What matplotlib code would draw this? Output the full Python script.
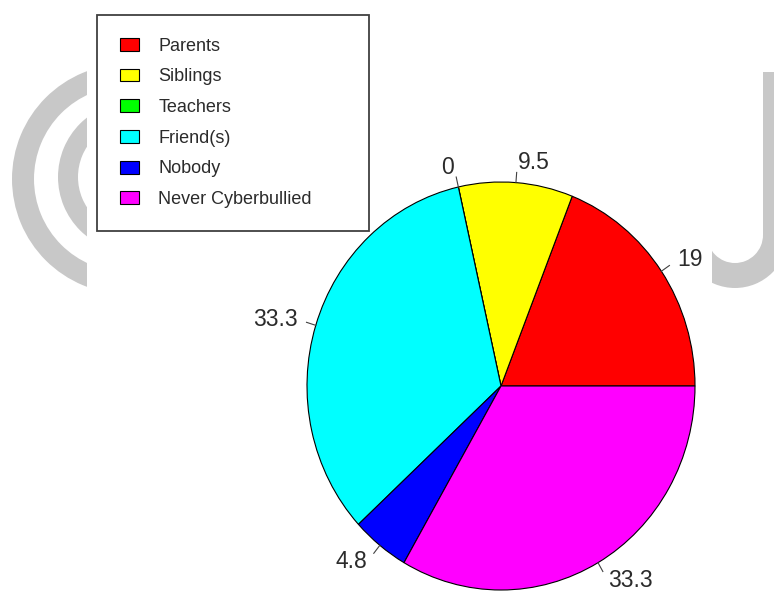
import numpy as np
import matplotlib
matplotlib.use("Agg")
import matplotlib.pyplot as plt
from matplotlib.patches import Wedge, Rectangle

plt.rcParams["font.family"] = ["Liberation Sans", "DejaVu Sans"]

categories = ["Parents", "Siblings", "Teachers", "Friend(s)", "Nobody",
              "Never Cyberbullied"]
percentages = [19.0, 9.5, 0.0, 33.3, 4.8, 33.3]
colors = ["#ff0000", "#ffff00", "#00ff00", "#00ffff", "#0000ff", "#ff00ff"]

text_color = "#2b2b2b"
mark_color = "#c8c8c8"

W, H = 774, 594
# pie centre and radii in pixels (the picture is a little stretched vertically)
cx, cy = 501, 386
rx, ry = 194, 204


def draw_watermark(fig):
    bg = fig.add_axes([0, 0, 1, 1])
    bg.set_xlim(0, W)
    bg.set_ylim(H, 0)
    bg.axis("off")
    left_clip = Rectangle((0, 0), 87, H, transform=bg.transData)
    for (x, y, r, w) in [(127, 179, 115, 22), (133.5, 177, 75.5, 20)]:
        arc = Wedge((x, y), r, 0, 360, width=w, color=mark_color, lw=0)
        bg.add_patch(arc)
        arc.set_clip_path(left_clip)
    bg.add_patch(Rectangle((763, 72), 25, 163, color=mark_color, lw=0))
    bowl = Wedge((735, 235), 53, 0, 360, width=25, color=mark_color, lw=0)
    bg.add_patch(bowl)
    bowl.set_clip_path(Rectangle((712, 235), 80, 80, transform=bg.transData))


def draw_pie(fig):
    ax = fig.add_axes([0, 0, 1, 1])
    ax.patch.set_alpha(0)
    wedges, _ = ax.pie(percentages, colors=colors, startangle=0,
                       counterclock=True,
                       wedgeprops=dict(edgecolor="black", linewidth=0.8))
    ax.set_aspect("auto")
    ax.set_xlim(-cx / rx, (W - cx) / rx)
    ax.set_ylim(-(H - cy) / ry, cy / ry)

    for wdg, val in zip(wedges, percentages):
        theta = np.deg2rad((wdg.theta1 + wdg.theta2) / 2)
        px, py = np.cos(theta), np.sin(theta)
        ax.plot([px, 1.05 * px], [py, 1.05 * py], color="#404040", lw=0.8)
        ax.text(1.1 * px, 1.1 * py, f"{val:g}", fontsize=16.5,
                color=text_color, va="center",
                ha="left" if px >= 0 else "right")

    # legend box, top left
    x0, top, right = 97 / W, 1 - 15 / H, 369 / W
    leg = fig.legend(wedges, categories, loc="upper left",
                     bbox_to_anchor=(x0, 0.4, right - x0, top - 0.4),
                     mode="expand", borderaxespad=0, fontsize=13,
                     handlelength=1.1, handleheight=0.72, handletextpad=1.05,
                     labelspacing=0.76, borderpad=1.25, fancybox=False,
                     framealpha=1, edgecolor="#404040")
    leg.get_frame().set_linewidth(1.3)
    for t in leg.get_texts():
        t.set_color(text_color)


if __name__ == "__main__":
    fig = plt.figure(figsize=(W / 100, H / 100), dpi=100)
    draw_watermark(fig)
    draw_pie(fig)
    fig.savefig("out.png", dpi=100, facecolor="white")
    plt.close(fig)
